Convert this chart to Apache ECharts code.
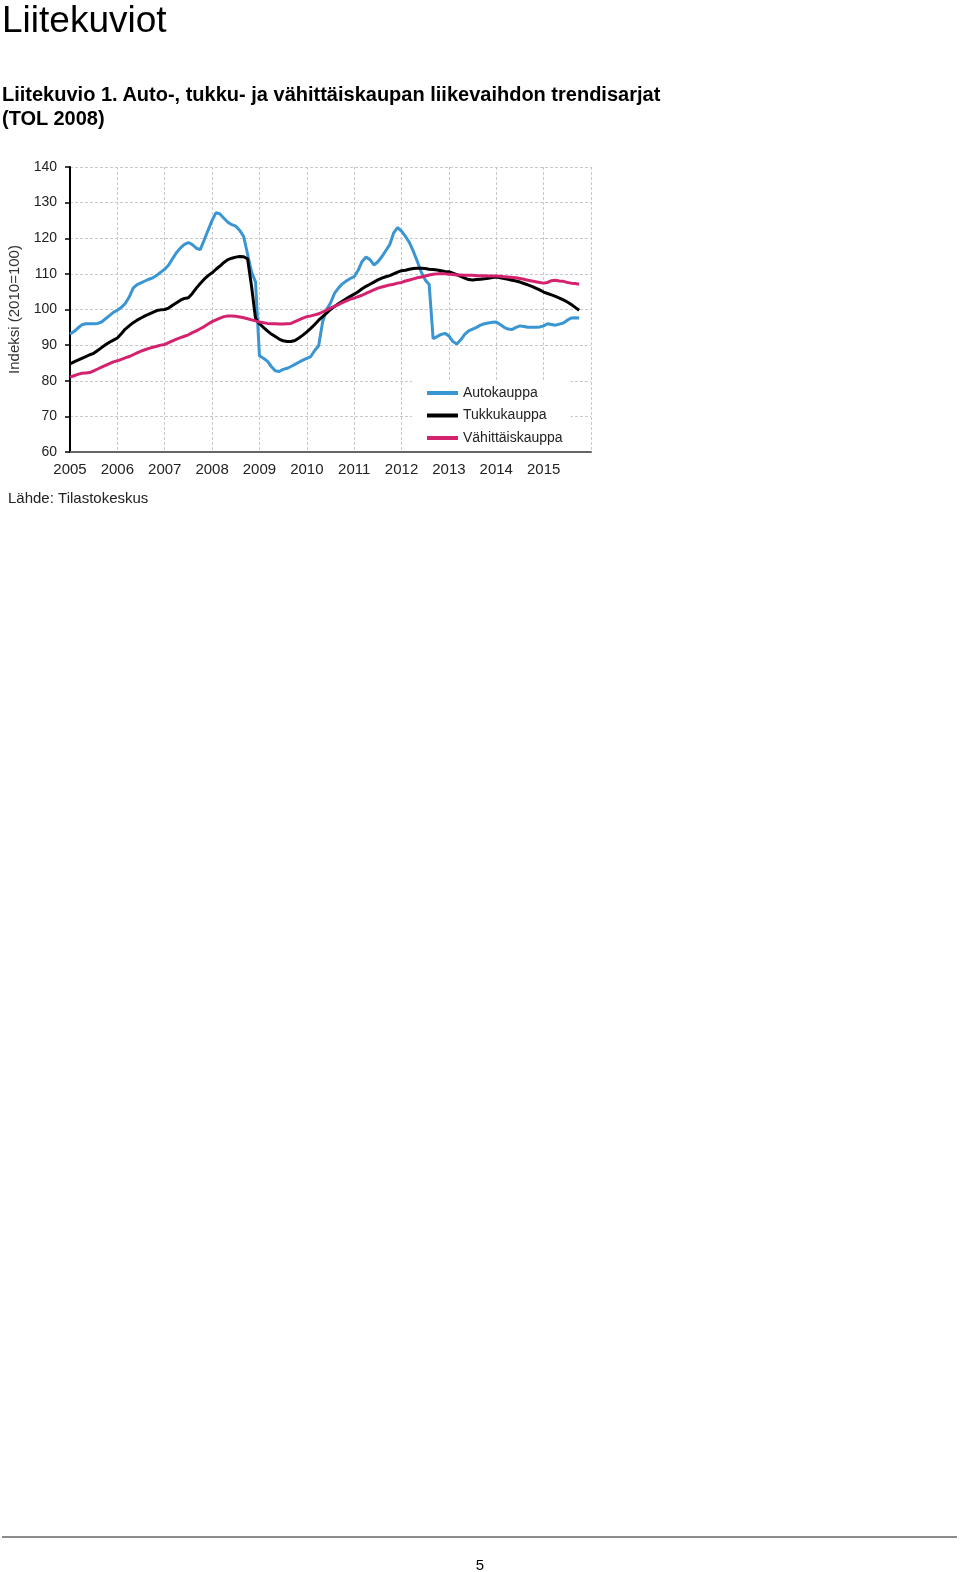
<!DOCTYPE html>
<html>
<head>
<meta charset="utf-8">
<script src="https://cdn.jsdelivr.net/npm/echarts@6/dist/echarts.min.js"></script>
<style>
  html, body { margin: 0; padding: 0; background: #fff; }
  body { width: 960px; height: 1572px; position: relative; overflow: hidden; font-family: "Liberation Sans", Arial, sans-serif; }
  #chart { position: absolute; left: 0; top: 0; width: 960px; height: 1572px; }
  .pg { position: absolute; color: #000; white-space: nowrap; }
  #h1 { left: 2px; top: 1px; font-size: 37px; line-height: 37px; }
  #h2 { left: 2px; top: 82px; font-size: 20px; line-height: 24px; font-weight: bold; }
  #rule { position: absolute; left: 2px; top: 1536px; width: 955px; height: 2px; background: #8c8c8c; }
  #pnum { left: 0; width: 960px; text-align: center; top: 1556px; font-size: 15px; line-height: 17px; }
</style>
</head>
<body>
<div id="chart"></div>
<div class="pg" id="h1">Liitekuviot</div>
<div class="pg" id="h2">Liitekuvio 1. Auto-, tukku- ja vähittäiskaupan liikevaihdon trendisarjat<br>(TOL 2008)</div>
<div id="rule"></div>
<div class="pg" id="pnum">5</div>
<script>
// ---- data ----
const startYear = 2005;
const yearTicks = [2005, 2006, 2007, 2008, 2009, 2010, 2011, 2012, 2013, 2014, 2015];
const seriesNames = ['Autokauppa', 'Tukkukauppa', 'Vähittäiskauppa'];

// monthly values, Jan 2005 – Oct 2015
const autokauppa = [
  93.1, 93.8, 94.8, 95.7, 96, 96, 96, 96.1, 96.5, 97.4, 98.3, 99.2,
  99.8, 100.6, 101.7, 103.5, 106, 107, 107.5, 108, 108.5, 108.9, 109.6, 110.5,
  111.3, 112.5, 114.3, 116, 117.3, 118.3, 118.8, 118.2, 117.2, 116.8, 119.5, 122.3,
  125, 127.2, 126.8, 125.6, 124.5, 123.8, 123.4, 122.2, 120.5, 115.5, 110.5, 107.8,
  87, 86.3, 85.5, 84, 82.8, 82.6, 83.2, 83.5, 84, 84.6, 85.2, 85.8,
  86.3, 86.8, 88.5, 89.8, 96.5, 100, 101.8, 104.5, 106, 107.2, 108, 108.7,
  109.2, 111, 113.5, 114.7, 114, 112.5, 113.4, 114.8, 116.5, 118.2, 121.5, 123,
  122, 120.5, 118.8, 116.3, 113.5, 110.5, 108.3, 107, 91.8, 92.4, 93, 93.3,
  92.6, 91, 90.3, 91.5, 93, 94, 94.5, 95, 95.6, 96, 96.2, 96.4,
  96.5, 95.8, 95, 94.5, 94.4, 95, 95.4, 95.2, 95, 95, 95, 95.1,
  95.4, 96, 95.8, 95.6, 95.9, 96.2, 97, 97.6, 97.7, 97.6
];
const tukkukauppa = [
  84.7, 85.3, 85.8, 86.3, 86.8, 87.3, 87.7, 88.5, 89.3, 90.1, 90.8, 91.4,
  92, 93.2, 94.5, 95.4, 96.3, 97, 97.6, 98.2, 98.7, 99.2, 99.7, 99.9,
  100, 100.4, 101.2, 101.9, 102.6, 103.1, 103.3, 104.5, 106, 107.3, 108.5, 109.5,
  110.3, 111.3, 112.2, 113.2, 114, 114.4, 114.7, 114.9, 114.8, 114.2, 106.5, 97.5,
  96, 95, 94, 93.1, 92.4, 91.7, 91.2, 91, 91, 91.3, 92, 92.8,
  93.7, 94.7, 95.8, 97, 98, 99, 100, 100.8, 101.6, 102.3, 103, 103.7,
  104.3, 105, 105.8, 106.5, 107.1, 107.7, 108.3, 108.8, 109.2, 109.5, 110, 110.5,
  110.9, 111, 111.3, 111.5, 111.6, 111.6, 111.5, 111.3, 111.2, 111.1, 110.9, 110.7,
  110.6, 110.2, 109.8, 109.3, 108.8, 108.4, 108.3, 108.4, 108.5, 108.6, 108.8, 109,
  109.1, 108.9, 108.7, 108.5, 108.2, 108, 107.7, 107.3, 106.9, 106.5, 106, 105.5,
  104.9, 104.5, 104.1, 103.7, 103.2, 102.7, 102.1, 101.4, 100.6, 99.8
];
const vahittaiskauppa = [
  81, 81.4, 81.8, 82.1, 82.2, 82.3, 82.8, 83.3, 83.8, 84.3, 84.8, 85.3,
  85.6, 86, 86.4, 86.8, 87.3, 87.8, 88.3, 88.7, 89.1, 89.4, 89.7, 90,
  90.2, 90.7, 91.2, 91.7, 92.1, 92.5, 92.9, 93.5, 94, 94.6, 95.2, 95.9,
  96.6, 97.1, 97.6, 98, 98.2, 98.2, 98.1, 97.9, 97.7, 97.4, 97.1, 96.8,
  96.5, 96.3, 96.1, 96, 96, 95.9, 95.9, 96, 96.1, 96.6, 97.1, 97.6,
  98, 98.2, 98.5, 98.8, 99.3, 99.8, 100.4, 100.9, 101.4, 101.9, 102.4, 102.9,
  103.2, 103.6, 104, 104.5, 105, 105.5, 106, 106.3, 106.6, 106.9, 107.1, 107.4,
  107.6, 108, 108.3, 108.6, 108.9, 109.1, 109.4, 109.7, 109.9, 110, 110.1, 110,
  109.9, 109.8, 109.7, 109.7, 109.6, 109.6, 109.6, 109.5, 109.5, 109.5, 109.4, 109.4,
  109.4, 109.3, 109.2, 109.1, 109, 108.9, 108.7, 108.5, 108.2, 108, 107.8, 107.6,
  107.4, 107.6, 108.1, 108.2, 108, 107.9, 107.6, 107.4, 107.3, 107.1
];
const yMin = 60, yMax = 140, yStep = 10;
const yAxisName = 'Indeksi (2010=100)';
const sourceText = 'Lähde: Tilastokeskus';

// ---- build ----
function toPoints(arr) {
  return arr.map((v, i) => [startYear + i / 12, v]);
}
const colors = ['#3a96d2', '#000000', '#d4226f'];
const FONT = '"Liberation Sans", Arial, sans-serif';
const chart = echarts.init(document.getElementById('chart'), null, { renderer: 'canvas' });
const lastYear = yearTicks[yearTicks.length - 1] + 1;
chart.setOption({
  animation: false,
  backgroundColor: 'transparent',
  textStyle: { fontFamily: FONT },
  grid: { left: 70, top: 167, width: 521, height: 285, containLabel: false, outerBoundsMode: 'none' },
  legend: {
    orient: 'vertical',
    left: 412, top: 381,
    backgroundColor: '#fff',
    padding: [4, 8, 4, 15],
    itemGap: 6.5,
    itemWidth: 31, itemHeight: 4,
    icon: 'rect',
    textStyle: { fontSize: 14, color: '#222', lineHeight: 16, fontFamily: FONT },
    data: seriesNames
  },
  xAxis: {
    type: 'value',
    min: yearTicks[0], max: lastYear, interval: 1,
    axisLine: { show: true, lineStyle: { color: '#666', width: 2 } },
    axisTick: { show: false },
    axisLabel: {
      margin: 10, fontSize: 15, color: '#222', fontFamily: FONT,
      formatter: v => yearTicks.indexOf(v) >= 0 ? String(v) : ''
    },
    splitLine: { show: true, lineStyle: { color: '#c9c9c9', type: [3, 2], width: 1 } }
  },
  yAxis: {
    type: 'value',
    min: yMin, max: yMax, interval: yStep,
    name: yAxisName,
    nameLocation: 'middle',
    nameGap: 46,
    nameTextStyle: { fontSize: 15, color: '#333', fontFamily: FONT },
    axisLine: { show: true, lineStyle: { color: '#000', width: 2 } },
    axisTick: { show: true, length: 5, lineStyle: { color: '#000', width: 1.5 } },
    axisLabel: { margin: 13, fontSize: 14, color: '#222', fontFamily: FONT },
    splitLine: { show: true, lineStyle: { color: '#c9c9c9', type: [3, 2], width: 1 } }
  },
  series: [
    { name: seriesNames[0], type: 'line', data: toPoints(autokauppa), showSymbol: false, symbol: 'none', lineStyle: { color: colors[0], width: 3 }, itemStyle: { color: colors[0] } },
    { name: seriesNames[1], type: 'line', data: toPoints(tukkukauppa), showSymbol: false, symbol: 'none', lineStyle: { color: colors[1], width: 3 }, itemStyle: { color: colors[1] } },
    { name: seriesNames[2], type: 'line', data: toPoints(vahittaiskauppa), showSymbol: false, symbol: 'none', lineStyle: { color: colors[2], width: 3 }, itemStyle: { color: colors[2] } }
  ],
  graphic: [
    { type: 'text', left: 8, top: 491, style: { text: sourceText, fontSize: 15, fill: '#222', fontFamily: FONT } }
  ]
});
</script>
</body>
</html>
